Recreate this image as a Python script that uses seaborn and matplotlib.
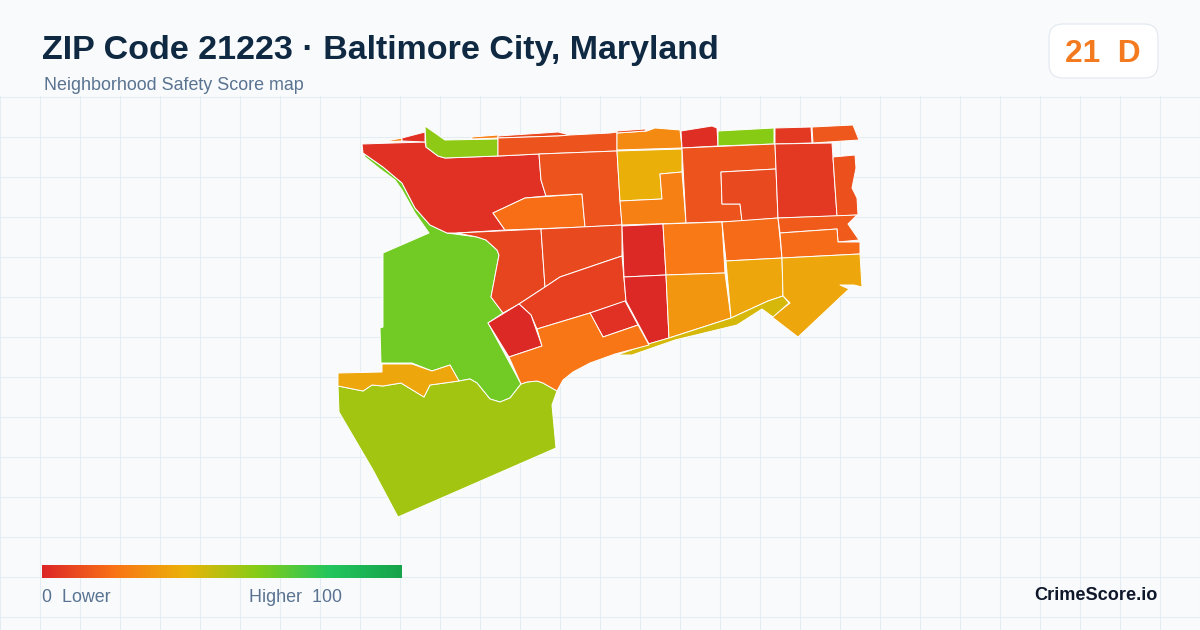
import numpy as np
import seaborn as sns
import matplotlib
matplotlib.use("Agg")
import matplotlib.pyplot as plt
from matplotlib.collections import PolyCollection
from matplotlib.colors import LinearSegmentedColormap, Normalize
from matplotlib.patches import FancyBboxPatch

title = "ZIP Code 21223 · Baltimore City, Maryland"
subtitle = "Neighborhood Safety Score map"
badge = "21  D"
brand = "CrimeScore.io"
legend_low = "0  Lower"
legend_high = "Higher  100"

# tract outlines, in map units
nw_big = [(362,144),(425,142),(426,147),(438,156),(445,158),(498,156),(539,154),(541,180),(546,196),(525,198),(493,213),(505,230),(457,233),(447,233),(430,225),(415,208),(402,183),(383,167),(363,153)]
nw_strip_a = [(382,142),(402,138),(402,141)]
nw_strip_b = [(402,138),(425,132),(425,142),(402,141)]
park = [(429,233),(383,253),(383,327),(380,328),(381,363),(412,363),(432,371),(450,365),(459,381),(470,379),(477,383),(490,399),(500,402),(510,398),(521,384),(488,323),(503,313),(491,297),(499,255),(497,250),(486,240),(477,237),(447,233),(430,225),(415,208),(402,183),(383,167),(363,153),(362,150),(365,157),(380,169),(395,180),(402,190),(415,213)]
top_green = [(425,126),(445,140),(498,139),(498,156),(445,158),(438,156),(426,147)]
top_thin_a = [(472,137),(498,135),(498,138),(472,139)]
top_thin_b = [(498,136),(558,132),(570,135),(558,136),(498,138)]
top_strip = [(498,138),(558,136),(570,135),(610,133),(617,132),(617,151),(539,154),(498,156)]
mid_a = [(525,198),(582,194),(585,227),(505,230),(493,213)]
mid_b = [(539,154),(617,151),(620,200),(622,225),(585,227),(582,194),(546,196),(541,180)]
west_c = [(457,233),(541,229),(545,287),(519,304),(503,313),(491,297),(499,255),(497,250),(486,240),(477,237)]
mid_c = [(541,229),(622,225),(622,256),(610,260),(560,277),(545,287)]
mid_d = [(519,304),(545,287),(560,277),(610,260),(622,256),(626,301),(590,313),(537,329),(531,315)]
yellow_block = [(617,151),(682,149),(682,172),(660,174),(662,199),(620,201)]
top_orange = [(617,133),(647,131),(655,128),(680,130),(682,148),(617,150)]
top_sliver = [(617,131),(645,129),(646,131),(617,133)]
l_orange = [(660,174),(682,172),(686,223),(622,225),(620,201),(662,199)]
top_red = [(681,131),(712,126),(717,128),(718,146),(682,148)]
top_lime = [(718,131),(774,128),(774,144),(718,146)]
top_e = [(775,128),(811,127),(812,143),(775,144)]
top_f = [(812,127),(853,125),(859,140),(813,143)]
block_g = [(682,148),(775,144),(776,169),(721,172),(722,204),(740,204),(742,221),(686,223)]
block_h = [(721,172),(776,169),(778,218),(742,221),(740,204),(722,204)]
block_i = [(775,144),(832,143),(837,216),(778,218)]
east_j = [(833,157),(855,155),(856,168),(852,188),(857,198),(858,215),(837,216)]
red_k = [(622,226),(663,224),(666,275),(624,277)]
red_l = [(624,277),(666,275),(669,338),(649,344),(626,301)]
orange_m = [(663,224),(722,222),(725,273),(666,275)]
amber_n = [(666,275),(725,273),(731,318),(669,338)]
orange_o = [(722,222),(778,218),(782,258),(726,261)]
amber_p = [(726,261),(782,258),(783,296),(768,301),(731,318)]
east_q = [(778,218),(857,215),(848,224),(859,240),(838,242),(837,229),(780,233)]
east_r = [(780,233),(837,229),(838,242),(860,242),(860,254),(782,258)]
amber_s = [(782,258),(860,254),(862,287),(854,285),(840,285),(849,289),(798,337),(772,317),(790,303),(783,296)]
shore = [(783,296),(789,303),(773,317),(762,309),(737,325),(675,340),(632,355),(617,355),(648,344),(669,338),(731,318),(768,301)]
red_t = [(488,323),(519,304),(531,315),(542,346),(509,357)]
red_u = [(590,313),(625,301),(638,325),(603,337)]
south_orange = [(537,329),(590,313),(603,337),(638,325),(649,345),(615,354),(590,363),(573,372),(563,380),(557,391),(543,383),(537,381),(527,382),(521,384),(509,357),(542,346)]
sw_amber = [(338,373),(382,372),(382,364),(412,364),(432,371),(450,365),(459,381),(430,385),(424,397),(401,383),(383,386),(372,385),(363,391),(338,386)]
south_big = [(338,386),(363,391),(372,385),(383,386),(401,383),(424,397),(430,385),(459,381),(470,379),(477,383),(490,399),(500,402),(510,398),(521,384),(527,382),(537,381),(543,383),(557,391),(552,405),(556,448),(398,517),(373,470),(339,412)]

tracts = [park, south_big, sw_amber, nw_big, nw_strip_a, nw_strip_b, top_green, top_thin_a, top_thin_b, top_strip,
          mid_a, mid_b, west_c, mid_c, mid_d, yellow_block, top_orange, top_sliver, l_orange, top_red, top_lime,
          top_e, top_f, block_g, block_h, block_i, east_j, red_k, red_l, orange_m, amber_n, orange_o, amber_p,
          east_q, east_r, amber_s, shore, red_t, red_u, south_orange]
scores = [64, 54, 36, 3, 25, 3, 58, 24, 9, 12,
          19, 12, 8, 9, 7, 39, 27, 10, 24, 2, 59,
          5, 13, 12, 9, 5, 11, 1, 1, 22, 31, 18, 36,
          14, 18, 36, 44, 1, 3, 21]

ramp_stops = [0.0, 0.2, 0.4, 0.6, 0.8, 1.0]
ramp_colors = ["#dc2626", "#f97316", "#eab308", "#84cc16", "#22c55e", "#16a34a"]
grid_step = 40

sns.set_theme(style="whitegrid")
plt.rcParams["font.family"] = ["Liberation Sans", "DejaVu Sans"]

cmap = LinearSegmentedColormap.from_list("safety", list(zip(ramp_stops, ramp_colors)))
norm = Normalize(0, 100)

fig = plt.figure(figsize=(12, 6.3), dpi=100, facecolor="#f8fafc")

# map, with the faint grid behind it
ax = fig.add_axes([0, 0, 1, 534 / 630])
ax.set_facecolor("#f8fafc")
ax.set_xlim(0, 1200)
ax.set_ylim(630, 96)
ax.set_xticks(np.arange(0, 1201, grid_step))
ax.set_yticks(np.arange(97, 630, grid_step))
ax.grid(True, color="#e4edf1", linewidth=0.75)
ax.tick_params(left=False, bottom=False, labelleft=False, labelbottom=False)
sns.despine(ax=ax, left=True, bottom=True)
ax.set_axisbelow(True)
ax.add_collection(PolyCollection(tracts, array=np.array(scores), cmap=cmap, norm=norm,
                                 edgecolors="white", linewidths=0.7))

# colour ramp legend
lax = fig.add_axes([42 / 1200, 1 - 578 / 630, 360 / 1200, 13 / 630])
sns.heatmap(np.linspace(0, 100, 360).reshape(1, -1), ax=lax, cmap=cmap, norm=norm, cbar=False,
            xticklabels=False, yticklabels=False)

# page layer for title, badge and labels
page = fig.add_axes([0, 0, 1, 1])
page.set_xlim(0, 1200)
page.set_ylim(630, 0)
page.axis("off")
page.patch.set_alpha(0)

page.text(42, 51, title, fontsize=24.45, fontweight="bold", color="#0f2942", va="center")
page.text(44, 86, subtitle, fontsize=12.9, color="#5a7391", va="center")
page.add_patch(FancyBboxPatch((1063, 38), 81, 26, boxstyle="round,pad=14,rounding_size=14",
                              facecolor="white", edgecolor="#e2e8f0", linewidth=0.8))
page.text(1103, 54, badge, fontsize=22.8, fontweight="bold", color="#f47a1f", ha="center", va="center")
page.text(42, 598, legend_low, fontsize=12.9, color="#5a7391", va="center")
page.text(249, 598, legend_high, fontsize=12.9, color="#5a7391", va="center")
page.text(1158, 595, brand, fontsize=13.1, fontweight="bold", color="#0f172a", ha="right", va="center")

fig.savefig("out.png", dpi=100, facecolor=fig.get_facecolor())
